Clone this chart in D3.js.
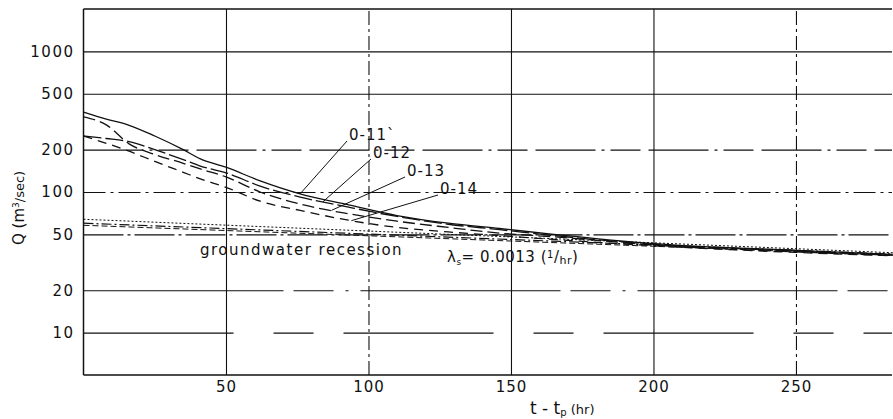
<!DOCTYPE html>
<html><head><meta charset="utf-8">
<script src="https://cdn.jsdelivr.net/npm/d3@7"></script>
<style>
body{margin:0;background:#fff;}
svg{display:block;font-family:"DejaVu Sans",sans-serif;}
</style></head>
<body><svg id="c" width="893" height="419"></svg>
<script>
// ---- data ----
const hours = [0, 8, 16, 25, 35, 41, 50, 62, 76, 93, 110, 128, 146, 165, 200, 250, 284];
const q011 = [370, 330, 298, 250, 200, 172, 150, 120, 97, 81, 68, 60, 55, 50, 43, 38.5, 36];
const q012 = [250, 240, 228, 200, 170, 153, 137, 110, 92, 78, 67, 59, 54, 49, 42.5, 38, 35.5];
const q013 = [342, 300, 220, 185, 160, 146, 128, 100, 82, 70, 62, 56, 51, 48, 42, 37.5, 35.5];
const q014 = [250, 222, 195, 165, 138, 124, 108, 86, 74, 63, 56, 52, 49, 46, 41.5, 37.2, 35.2];
const gwHours = [0, 284];
const gwA = [64, 37];
const gwB = [60, 36.2];
const gwC = [58, 35.6];
const seriesNames = ["0-11`", "0-12", "0-13", "0-14"];
const leaderHours = [76, 84, 87, 94];
const xTicks = [50, 100, 150, 200, 250];
const yTicks = [10, 20, 50, 100, 200, 500, 1000];

// ---- layout ----
const svg = d3.select("#c");
const L = 83.5, R = 892, T = 9, B = 375;
const x = d3.scaleLinear().domain([0, 283.7]).range([L, R]);
const y = d3.scaleLog().domain([5, 2000]).range([B, T]);

const ink = "#111";
const yGridDash = {1000: null, 500: null, 200: "60,6,3,6,30,8", 100: "22,5,3,5", 50: "40,4,3,4", 20: "200,10,40,12,3,12", 10: "150,40,40,30"};
const xGridDash = {50: null, 100: "14,4,3,4", 150: null, 200: null, 250: "14,4,3,4"};

// grid via axes
const gy = svg.append("g").attr("transform", `translate(${L},0)`)
  .call(d3.axisLeft(y).tickValues(yTicks).tickFormat(d3.format("d")).tickSize(-(R - L)).tickPadding(9));
gy.select(".domain").remove();
gy.selectAll(".tick line").attr("stroke", ink).attr("stroke-width", 1.1)
  .attr("stroke-dasharray", d => yGridDash[d]);
gy.selectAll(".tick text").attr("fill", ink).attr("font-size", 15).attr("letter-spacing", 1.5)
  .attr("font-family", "DejaVu Sans, sans-serif");

const gx = svg.append("g").attr("transform", `translate(0,${B})`)
  .call(d3.axisBottom(x).tickValues(xTicks).tickFormat(d3.format("d")).tickSize(-(B - T)).tickPadding(6));
gx.select(".domain").remove();
gx.selectAll(".tick line").attr("stroke", ink).attr("stroke-width", 1.1)
  .attr("stroke-dasharray", d => xGridDash[d]);
gx.selectAll(".tick text").attr("fill", ink).attr("font-size", 15).attr("letter-spacing", 1)
  .attr("font-family", "DejaVu Sans, sans-serif");

// frame
svg.append("line").attr("x1", L).attr("x2", L).attr("y1", T).attr("y2", B).attr("stroke", ink).attr("stroke-width", 1.5);
svg.append("line").attr("x1", L).attr("x2", R).attr("y1", B).attr("y2", B).attr("stroke", ink).attr("stroke-width", 1.5);
svg.append("line").attr("x1", L).attr("x2", R).attr("y1", T).attr("y2", T).attr("stroke", ink).attr("stroke-width", 1.3);

// lines
const line = d3.line().x(d => x(d[0])).y(d => y(d[1])).curve(d3.curveMonotoneX);
function draw(ts, qs, dash, w) {
  svg.append("path").datum(ts.map((t, i) => [t, qs[i]]))
    .attr("d", line).attr("fill", "none").attr("stroke", ink)
    .attr("stroke-width", w).attr("stroke-dasharray", dash);
}
draw(gwHours, gwA, "2,2", 1);
draw(gwHours, gwB, "10,3,2,3", 1.2);
draw(gwHours, gwC, "6,3", 1);
const allSeries = [q011, q012, q013, q014];
const dashes = [null, "18,4", "12,5", "9,6"];
allSeries.forEach((s, i) => draw(hours, s, dashes[i], 1.3));

// labels with leaders
const labelPos = [[349, 140], [373, 158], [407, 176], [440, 194]];
function qAt(s, t) {
  const i = d3.bisectRight(hours, t) - 1;
  const f = (t - hours[i]) / (hours[i + 1] - hours[i]);
  return Math.exp(Math.log(s[i]) + f * (Math.log(s[i + 1]) - Math.log(s[i])));
}
seriesNames.forEach((n, i) => {
  const [lx, ly] = labelPos[i];
  svg.append("line").attr("x1", lx - 2).attr("y1", ly + 1)
    .attr("x2", x(leaderHours[i])).attr("y2", y(qAt(allSeries[i], leaderHours[i])))
    .attr("stroke", ink).attr("stroke-width", 1);
  svg.append("text").attr("x", lx).attr("y", ly).attr("font-size", 15).attr("letter-spacing", 1)
    .attr("fill", ink).text(n);
});

svg.append("text").attr("x", 200).attr("y", 255).attr("font-size", 15).attr("letter-spacing", 1.5)
  .attr("fill", ink).text("groundwater  recession");
const lam = svg.append("text").attr("x", 447).attr("y", 262).attr("font-size", 15).attr("fill", ink).attr("letter-spacing", 0.5);
lam.append("tspan").text("λ");
lam.append("tspan").attr("font-size", 9).attr("dy", 3).text("s");
lam.append("tspan").attr("dy", -3).text("= 0.0013  (");
lam.append("tspan").attr("font-size", 10).attr("dy", -4).text("1");
lam.append("tspan").attr("dy", 4).text("/");
lam.append("tspan").attr("font-size", 11).attr("dy", 2).text("hr");
lam.append("tspan").attr("dy", -2).text(")");

// axis titles
const xt = svg.append("text").attr("x", 530).attr("y", 414).attr("font-size", 17).attr("fill", ink);
xt.append("tspan").text("t - t");
xt.append("tspan").attr("font-size", 10).attr("dy", 2).text("p");
xt.append("tspan").attr("dy", -2).attr("font-size", 13).text("  (hr)");

const yt = svg.append("text").attr("transform", "translate(24,245) rotate(-90)").attr("font-size", 15).attr("fill", ink);
yt.append("tspan").text("Q  (m");
yt.append("tspan").attr("font-size", 9).attr("dy", -5).text("3");
yt.append("tspan").attr("dy", 5).attr("font-size", 13).text("/sec)");
</script></body></html>
